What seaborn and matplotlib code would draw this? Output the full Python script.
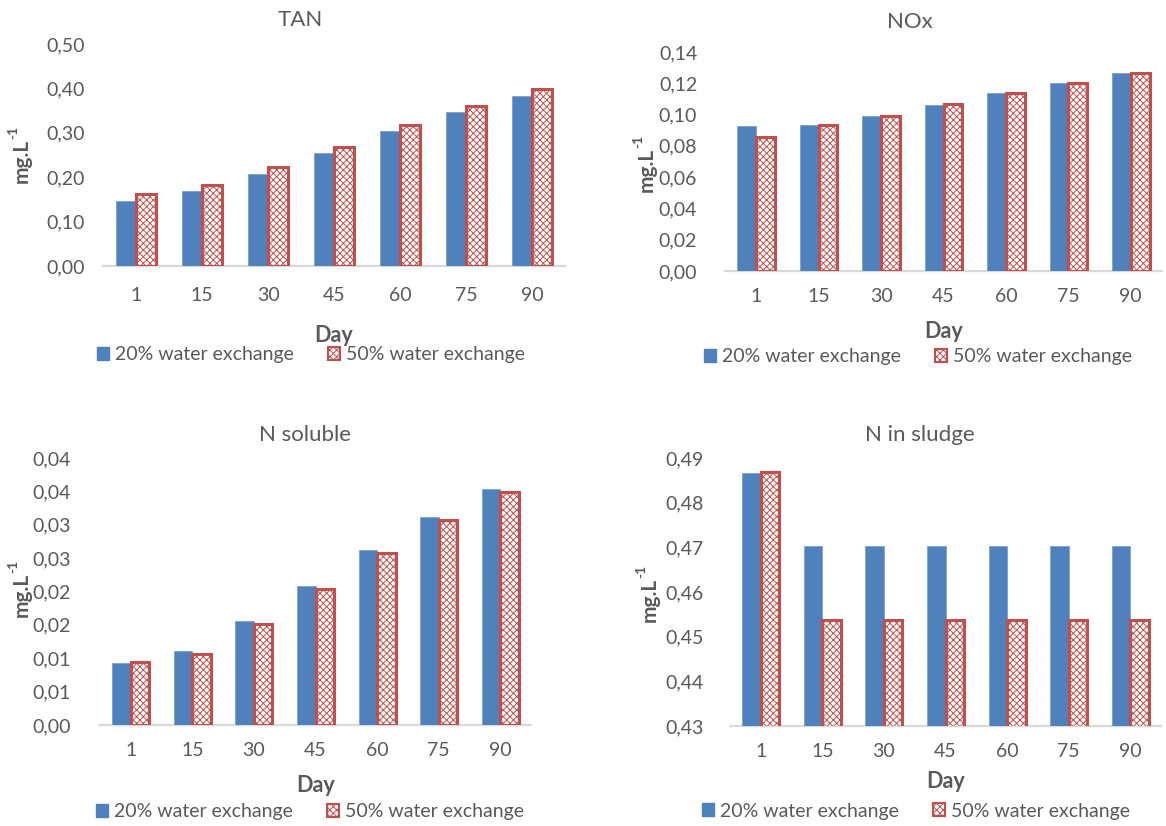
import matplotlib
matplotlib.use("Agg")
import matplotlib.pyplot as plt
from matplotlib.patches import Patch
import numpy as np
import pandas as pd
import seaborn as sns

sns.set_theme(style="white")
plt.rcParams["font.family"] = ["Lato", "DejaVu Sans"]
plt.rcParams["hatch.linewidth"] = 0.7

# ---- data -------------------------------------------------------------
days = ["1", "15", "30", "45", "60", "75", "90"]
series_names = ["20% water exchange", "50% water exchange"]

tan_20 = [0.146, 0.169, 0.207, 0.254, 0.304, 0.347, 0.384]
tan_50 = [0.162, 0.182, 0.223, 0.268, 0.318, 0.360, 0.399]

nox_20 = [0.0927, 0.0933, 0.0991, 0.1060, 0.1136, 0.1200, 0.1264]
nox_50 = [0.0857, 0.0933, 0.0994, 0.1066, 0.1138, 0.1204, 0.1264]

nsol_20 = [0.0093, 0.0111, 0.0156, 0.0208, 0.0262, 0.0312, 0.0354]
nsol_50 = [0.0094, 0.0106, 0.0151, 0.0204, 0.0258, 0.0307, 0.0349]

nsludge_20 = [0.4866, 0.4702, 0.4702, 0.4702, 0.4702, 0.4702, 0.4702]
nsludge_50 = [0.4868, 0.4537, 0.4537, 0.4537, 0.4537, 0.4537, 0.4537]

tan_ticks = [0.0, 0.1, 0.2, 0.3, 0.4, 0.5]
tan_ticklabels = ["0,00", "0,10", "0,20", "0,30", "0,40", "0,50"]
nox_ticks = [0.0, 0.02, 0.04, 0.06, 0.08, 0.10, 0.12, 0.14]
nox_ticklabels = ["0,00", "0,02", "0,04", "0,06", "0,08", "0,10", "0,12", "0,14"]
nsol_ticks = [0.0, 0.005, 0.01, 0.015, 0.02, 0.025, 0.03, 0.035, 0.04]
nsol_ticklabels = ["0,00", "0,01", "0,01", "0,02", "0,02", "0,03", "0,03", "0,04", "0,04"]
nsludge_ticks = [0.43, 0.44, 0.45, 0.46, 0.47, 0.48, 0.49]
nsludge_ticklabels = ["0,43", "0,44", "0,45", "0,46", "0,47", "0,48", "0,49"]

# ---- styling ----------------------------------------------------------
BLUE = "#4F81BD"
RED = "#C0504D"
GREY = "#595959"
AXIS = "#D9D9D9"
HATCH = "xxxxx"

W, H = 1166, 826
fig = plt.figure(figsize=(W / 100, H / 100), dpi=100)


def px_rect(left, top, right, bottom):
    return [left / W, 1 - bottom / H, (right - left) / W, (bottom - top) / H]


def fx(x):
    return x / W


def fy(y):
    return 1 - y / H


panels = [
    dict(title="TAN", s20=tan_20, s50=tan_50, ticks=tan_ticks, labels=tan_ticklabels,
         ylim=(0, 0.5), rect=(103, 44, 565, 266), ypad=13, xpad=15, lpad=15,
         title_xy=(300, 20), ylab_xy=(22, 161), leg_xy=(97, 355)),
    dict(title="NOx", s20=nox_20, s50=nox_50, ticks=nox_ticks, labels=nox_ticklabels,
         ylim=(0, 0.14), rect=(725, 52, 1162, 271), ypad=20, xpad=12, lpad=12,
         title_xy=(910, 22), ylab_xy=(647, 170), leg_xy=(704, 357)),
    dict(title="N soluble", s20=nsol_20, s50=nsol_50, ticks=nsol_ticks, labels=nsol_ticklabels,
         ylim=(0, 0.04), rect=(100, 458, 531, 725), ypad=21, xpad=12, lpad=12,
         title_xy=(305, 435), ylab_xy=(22, 595), leg_xy=(96, 812)),
    dict(title="N in sludge", s20=nsludge_20, s50=nsludge_50, ticks=nsludge_ticks,
         labels=nsludge_ticklabels, ylim=(0.43, 0.49), rect=(730, 458, 1161, 726), ypad=19,
         xpad=12, lpad=8, title_xy=(920, 435), ylab_xy=(650, 600), leg_xy=(702, 811)),
]

for p in panels:
    ax = fig.add_axes(px_rect(*p["rect"]))
    df = pd.DataFrame({
        "Day": days * 2,
        "Value": p["s20"] + p["s50"],
        "Treatment": [series_names[0]] * len(days) + [series_names[1]] * len(days),
    })
    sns.barplot(data=df, x="Day", y="Value", hue="Treatment", order=days,
                hue_order=series_names, palette=[BLUE, "white"], saturation=1,
                width=0.6, errorbar=None, legend=False, ax=ax)
    for bar in ax.containers[0]:
        bar.set_edgecolor("#7FA1CF")
        bar.set_linewidth(0.6)
    for bar in ax.containers[1]:
        bar.set_facecolor("white")
        bar.set_edgecolor(RED)
        bar.set_hatch(HATCH)
        bar.set_linewidth(2.2)

    ax.set_ylim(*p["ylim"])
    ax.set_yticks(p["ticks"])
    ax.set_yticklabels(p["labels"])
    ax.tick_params(axis="y", length=0, pad=p["ypad"], labelsize=14, labelcolor=GREY)
    ax.tick_params(axis="x", length=0, pad=p["xpad"], labelsize=14, labelcolor=GREY)
    for side in ("left", "top", "right"):
        ax.spines[side].set_visible(False)
    ax.spines["bottom"].set_color(AXIS)
    ax.spines["bottom"].set_linewidth(1.6)
    ax.spines["bottom"].set_zorder(0.5)
    ax.set_xlabel("Day", fontsize=15.5, fontweight="bold", color=GREY, labelpad=p["lpad"])
    ax.set_ylabel("")

    fig.text(fx(p["title_xy"][0]), fy(p["title_xy"][1]), p["title"],
             ha="center", va="center", fontsize=16, color=GREY)
    # rotated unit label with a small "-1" exponent above it
    lx, ly = p["ylab_xy"]
    fig.text(fx(lx), fy(ly), "mg.L", rotation=90, ha="center", va="center",
             fontsize=15, fontweight="bold", color=GREY)
    fig.text(fx(lx - 9), fy(ly - 29), "-1", rotation=90, ha="center", va="center",
             fontsize=10, fontweight="bold", color=GREY)

    handles = [
        Patch(facecolor=BLUE, edgecolor=BLUE, label=series_names[0]),
        Patch(facecolor="white", edgecolor=RED, hatch=HATCH, linewidth=1.5,
              label=series_names[1]),
    ]
    fig.legend(handles=handles, loc="center left",
               bbox_to_anchor=(fx(p["leg_xy"][0]), fy(p["leg_xy"][1])),
               ncol=2, frameon=False, fontsize=14, labelcolor=GREY,
               handlelength=0.62, handleheight=0.62, handletextpad=0.3,
               columnspacing=1.75, borderaxespad=0, borderpad=0)

fig.savefig("out.png", dpi=100)
